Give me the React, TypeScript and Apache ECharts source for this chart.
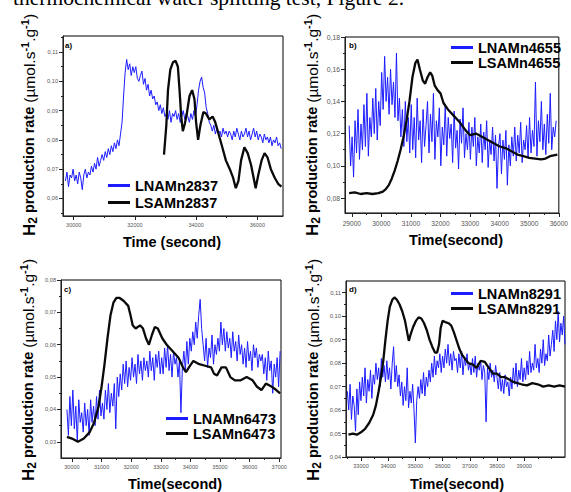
import React, { useEffect, useRef } from 'react';
import * as echarts from 'echarts';

const BLUE = '#1c1cff';
const BLACK = '#0a0a0a';
const FONT = '"Liberation Sans", Arial, Helvetica, sans-serif';

const topText = 'thermochemical water splitting test, Figure 2.';
const panelLabels = ['a)', 'b)', 'c)', 'd)'];
const xTitles = ['Time (second)', 'Time(second)', 'Time(second)', 'Time(second)'];

// ---------- Panel a ----------
const aNames = ['LNAMn2837', 'LSAMn2837'];
const aBlueStart = 29730;
const aBlueStep = 50;
const aBlue = [
  0.066, 0.069, 0.064, 0.068, 0.067, 0.070, 0.066, 0.068, 0.065, 0.069, 0.067, 0.063, 0.068, 0.070, 0.067, 0.069,
  0.068, 0.071, 0.069, 0.072, 0.070, 0.074, 0.071, 0.073,
  0.075, 0.073, 0.076, 0.074, 0.077, 0.075, 0.078, 0.076,
  0.079, 0.077, 0.080, 0.078, 0.082,
  0.086, 0.095, 0.103, 0.1075,
  0.104, 0.106, 0.102, 0.105, 0.103, 0.105, 0.101,
  0.100, 0.102, 0.1035, 0.099, 0.101,
  0.097, 0.099, 0.095, 0.097, 0.094, 0.095, 0.092,
  0.093, 0.090, 0.092, 0.089, 0.091, 0.088,
  0.089, 0.087, 0.090, 0.086, 0.089, 0.088, 0.090, 0.087, 0.089, 0.086, 0.088, 0.090, 0.087, 0.089, 0.088, 0.086, 0.089, 0.087, 0.090, 0.088,
  0.092, 0.097, 0.100, 0.1015,
  0.098, 0.096, 0.091, 0.089, 0.086, 0.085,
  0.083, 0.085, 0.082, 0.084, 0.082, 0.083, 0.081, 0.084, 0.082, 0.083,
  0.081, 0.083, 0.082, 0.080, 0.083, 0.081, 0.084, 0.082, 0.080, 0.083, 0.081, 0.082, 0.084, 0.081, 0.083, 0.080, 0.082, 0.084, 0.081, 0.083,
  0.080, 0.082, 0.081, 0.079, 0.082, 0.080, 0.081, 0.079, 0.081, 0.078, 0.080, 0.079, 0.081, 0.078, 0.079, 0.077,
];
const aBlack = [
  [32951, 0.075], [33027, 0.085], [33081, 0.097], [33157, 0.104], [33243, 0.1065], [33330, 0.107], [33405, 0.105],
  [33459, 0.097], [33513, 0.088], [33567, 0.083], [33632, 0.0855], [33697, 0.089], [33784, 0.095], [33870, 0.097],
  [33946, 0.094], [34000, 0.086], [34065, 0.080], [34140, 0.085], [34238, 0.0895], [34324, 0.089], [34432, 0.087],
  [34540, 0.088], [34627, 0.086], [34735, 0.082], [34843, 0.078], [34973, 0.073], [35102, 0.070], [35211, 0.067],
  [35297, 0.0635], [35384, 0.066], [35470, 0.073], [35578, 0.0775], [35686, 0.0755], [35795, 0.0715], [35881, 0.067],
  [35946, 0.0635], [36032, 0.068], [36140, 0.073], [36237, 0.0755], [36335, 0.074], [36443, 0.070], [36573, 0.067],
  [36681, 0.065], [36789, 0.064],
];
const aXTicks = [30000, 32000, 34000, 36000];
const aXMinor = [31000, 33000, 35000];
const aYTicks = [0.06, 0.07, 0.08, 0.09, 0.1, 0.11];
const aYMinor = [0.055, 0.065, 0.075, 0.085, 0.095, 0.105, 0.115];

// ---------- Panel b ----------
const bNames = ['LNAMn4655', 'LSAMn4655'];
const bBlueStart = 28910;
const bBlueStep = 50;
const bBlue = [
  0.125, 0.100, 0.118, 0.093, 0.128, 0.108, 0.135, 0.104,
  0.126, 0.110, 0.138, 0.112, 0.145, 0.106, 0.130, 0.118,
  0.142, 0.120, 0.148, 0.116, 0.140, 0.125,
  0.158, 0.135, 0.168, 0.140, 0.155, 0.132,
  0.160, 0.138, 0.152, 0.130, 0.170, 0.128,
  0.142, 0.118, 0.135, 0.112, 0.140, 0.115, 0.130, 0.108,
  0.138, 0.110, 0.130, 0.105, 0.142, 0.116, 0.128, 0.102, 0.135, 0.112, 0.125, 0.140, 0.108, 0.132, 0.115, 0.145, 0.104, 0.128, 0.118, 0.136,
  0.100, 0.124, 0.113, 0.138, 0.106, 0.130, 0.117, 0.126, 0.102, 0.134, 0.111, 0.122, 0.098, 0.129, 0.114, 0.136, 0.105, 0.120, 0.110, 0.127,
  0.104, 0.124, 0.112, 0.130, 0.100, 0.118, 0.108, 0.126, 0.102, 0.121, 0.110, 0.128, 0.099, 0.116, 0.107, 0.124, 0.103, 0.119, 0.086, 0.112,
  0.120, 0.095, 0.116, 0.104, 0.122, 0.088, 0.113, 0.100, 0.118, 0.106,
  0.124, 0.103, 0.119, 0.108, 0.127, 0.102, 0.116, 0.110, 0.125, 0.105,
  0.130, 0.108, 0.122, 0.112, 0.152, 0.106, 0.128, 0.115, 0.140, 0.110,
  0.126, 0.107, 0.132, 0.114, 0.145, 0.110, 0.124, 0.118, 0.128,
];
const bBlack = [
  [28910, 0.083], [29100, 0.0835], [29300, 0.0825], [29500, 0.083], [29700, 0.0825], [29900, 0.083], [30050, 0.084],
  [30150, 0.0855], [30250, 0.088], [30350, 0.092], [30450, 0.097], [30550, 0.103], [30650, 0.110], [30750, 0.118],
  [30850, 0.128], [30950, 0.140], [31050, 0.155], [31150, 0.164], [31220, 0.166], [31300, 0.160], [31400, 0.153],
  [31480, 0.151], [31560, 0.155], [31650, 0.158], [31720, 0.156], [31800, 0.150], [31900, 0.147], [32000, 0.145],
  [32100, 0.139], [32250, 0.135], [32450, 0.131], [32650, 0.127], [32850, 0.122], [33000, 0.119], [33200, 0.120],
  [33400, 0.118], [33600, 0.116], [33800, 0.114], [34000, 0.112], [34200, 0.111], [34400, 0.109], [34600, 0.107],
  [34800, 0.106], [35000, 0.105], [35200, 0.1045], [35400, 0.104], [35550, 0.1045], [35700, 0.106], [35950, 0.107],
];
const bXTicks = [29000, 30000, 31000, 32000, 33000, 34000, 35000, 36000];
const bXMinor = [29500, 30500, 31500, 32500, 33500, 34500, 35500];
const bYTicks = [0.08, 0.1, 0.12, 0.14, 0.16, 0.18];
const bYMinor = [0.09, 0.11, 0.13, 0.15, 0.17];

// ---------- Panel c ----------
const cNames = ['LNAMn6473', 'LSAMn6473'];
const cBlueStart = 29830;
const cBlueStep = 50;
const cBlue = [
  0.040, 0.032, 0.044, 0.035, 0.046, 0.034, 0.041, 0.030, 0.043, 0.036,
  0.039, 0.033, 0.042, 0.035, 0.040, 0.032, 0.043, 0.036,
  0.041, 0.035, 0.044, 0.037, 0.046, 0.038,
  0.042, 0.037, 0.046, 0.040, 0.048, 0.039, 0.045, 0.041,
  0.048, 0.034, 0.050, 0.044,
  0.051, 0.046, 0.054, 0.048, 0.055, 0.047,
  0.053, 0.049, 0.056, 0.050, 0.054, 0.048, 0.057, 0.051, 0.055, 0.049, 0.056, 0.052,
  0.055, 0.050, 0.058, 0.052, 0.056, 0.049, 0.057, 0.053, 0.058, 0.051,
  0.056, 0.051, 0.059, 0.053, 0.060, 0.052, 0.057, 0.050, 0.058, 0.054,
  0.056, 0.050, 0.055, 0.039, 0.053,
  0.058, 0.052, 0.061, 0.054, 0.062,
  0.058, 0.064, 0.060, 0.067, 0.062, 0.069, 0.074, 0.065,
  0.060, 0.055, 0.062, 0.053, 0.059, 0.056, 0.063, 0.054, 0.060, 0.057,
  0.062, 0.058, 0.067, 0.060, 0.065, 0.058, 0.064, 0.059,
  0.062, 0.056, 0.064, 0.058, 0.061, 0.055, 0.063, 0.057, 0.060, 0.054,
  0.059, 0.053, 0.061, 0.055, 0.058, 0.052, 0.060, 0.056, 0.059, 0.053, 0.057, 0.055,
  0.057, 0.051, 0.056, 0.049, 0.058, 0.052, 0.055, 0.045, 0.054, 0.050, 0.056, 0.047, 0.058,
];
const cBlack = [
  [29830, 0.0315], [30000, 0.031], [30200, 0.030], [30400, 0.031], [30600, 0.033], [30750, 0.036], [30900, 0.041],
  [31000, 0.047], [31100, 0.054], [31200, 0.062], [31300, 0.069], [31400, 0.073], [31500, 0.0745], [31600, 0.0745],
  [31750, 0.0735], [31900, 0.072], [31980, 0.069], [32050, 0.066], [32150, 0.065], [32300, 0.066], [32400, 0.065],
  [32500, 0.062], [32600, 0.060], [32700, 0.063], [32800, 0.0655], [32900, 0.065], [33050, 0.062], [33200, 0.060],
  [33400, 0.058], [33600, 0.056], [33750, 0.053], [33850, 0.0515], [33950, 0.053], [34100, 0.055], [34300, 0.054],
  [34500, 0.0535], [34700, 0.053], [34800, 0.051], [34900, 0.0505], [35050, 0.053], [35200, 0.053], [35350, 0.050],
  [35500, 0.049], [35700, 0.049], [35900, 0.050], [36100, 0.049], [36250, 0.047], [36400, 0.046], [36550, 0.048],
  [36750, 0.047], [36900, 0.046], [37030, 0.045],
];
const cXTicks = [30000, 31000, 32000, 33000, 34000, 35000, 36000, 37000];
const cXMinor = [30500, 31500, 32500, 33500, 34500, 35500, 36500];
const cYTicks = [0.03, 0.04, 0.05, 0.06, 0.07, 0.08];
const cYMinor = [0.035, 0.045, 0.055, 0.065, 0.075];

// ---------- Panel d ----------
const dNames = ['LNAMn8291', 'LSAMn8291'];
const dBlueStart = 32500;
const dBlueStep = 50;
const dBlue = [
  0.068, 0.060, 0.071, 0.056, 0.066, 0.062, 0.051, 0.069, 0.058, 0.072,
  0.064, 0.074, 0.066, 0.078, 0.063, 0.073, 0.068, 0.077, 0.065, 0.075,
  0.071, 0.080, 0.073, 0.078, 0.070, 0.082, 0.074, 0.079, 0.072, 0.081,
  0.073, 0.078, 0.069, 0.080, 0.087, 0.072, 0.079, 0.070,
  0.075, 0.066, 0.072, 0.062, 0.070, 0.064, 0.078, 0.061, 0.068, 0.063, 0.071, 0.060,
  0.046, 0.064,
  0.070, 0.065, 0.073, 0.067, 0.076, 0.066, 0.074, 0.070,
  0.077, 0.072, 0.080, 0.074, 0.083, 0.075, 0.081, 0.078, 0.084, 0.076,
  0.083, 0.078, 0.086, 0.080, 0.088, 0.079, 0.084, 0.077, 0.085, 0.081,
  0.082, 0.076, 0.084, 0.078, 0.085, 0.075, 0.082, 0.079, 0.084, 0.077,
  0.080, 0.075, 0.082, 0.076, 0.083, 0.074, 0.080, 0.077, 0.081, 0.073, 0.079, 0.076,
  0.055, 0.078, 0.073, 0.080, 0.074, 0.077, 0.072, 0.079,
  0.074, 0.069, 0.076, 0.068, 0.073, 0.067, 0.075, 0.070, 0.072, 0.066,
  0.074, 0.069, 0.078, 0.071, 0.080, 0.070, 0.077, 0.073, 0.082, 0.072,
  0.078, 0.073, 0.081, 0.075, 0.085, 0.076, 0.080, 0.077, 0.088, 0.078,
  0.082, 0.076, 0.086, 0.080, 0.090, 0.079, 0.084, 0.081, 0.092, 0.083,
  0.088, 0.094, 0.085, 0.098, 0.090, 0.102, 0.089, 0.097, 0.092, 0.100, 0.088,
];
const dBlack = [
  [32540, 0.0495], [32700, 0.050], [32850, 0.0495], [33000, 0.0505], [33150, 0.052], [33300, 0.0545], [33450, 0.058],
  [33550, 0.062], [33650, 0.068], [33750, 0.075], [33820, 0.081], [33900, 0.090], [33980, 0.098], [34060, 0.104],
  [34150, 0.107], [34230, 0.108], [34320, 0.107], [34420, 0.105], [34520, 0.102], [34620, 0.098], [34700, 0.093],
  [34760, 0.0895], [34820, 0.092], [34920, 0.0955], [35020, 0.098], [35120, 0.0995], [35220, 0.099], [35320, 0.097],
  [35420, 0.094], [35520, 0.090], [35620, 0.087], [35720, 0.0845], [35800, 0.0845], [35870, 0.088], [35930, 0.095],
  [36000, 0.098], [36100, 0.0975], [36220, 0.097], [36320, 0.096], [36420, 0.093], [36520, 0.0895], [36620, 0.086],
  [36720, 0.0835], [36850, 0.0815], [36950, 0.080], [37100, 0.0795], [37250, 0.078], [37400, 0.081], [37550, 0.0805],
  [37700, 0.078], [37850, 0.0755], [38000, 0.0755], [38150, 0.074], [38300, 0.074], [38450, 0.073], [38600, 0.072],
  [38750, 0.0715], [38900, 0.071], [39100, 0.0705], [39300, 0.0715], [39500, 0.071], [39700, 0.070], [39900, 0.0705],
  [40100, 0.070], [40300, 0.0705], [40500, 0.070],
];
const dXTicks = [33000, 34000, 35000, 36000, 37000, 38000, 39000];
const dXMinor = [32500, 33500, 34500, 35500, 36500, 37500, 38500, 39500, 40000];
const dYTicks = [0.04, 0.05, 0.06, 0.07, 0.08, 0.09, 0.1, 0.11];
const dYMinor = [0.045, 0.055, 0.065, 0.075, 0.085, 0.095, 0.105];

const toPairs = (start: number, step: number, vals: number[]) => vals.map((v, i) => [start + i * step, v]);

const panels = [
  {
    names: aNames, blue: toPairs(aBlueStart, aBlueStep, aBlue), black: aBlack,
    xTicks: aXTicks, xMinor: aXMinor, yTicks: aYTicks, yMinor: aYMinor,
    grid: { left: 63, top: 36, width: 220, height: 180 }, xr: [29650, 36840], yr: [0.054, 0.1155],
    fx: 5.5, fy: 5.6, mx: 5.5, my: 5, lg: { left: 108, top: 177, lh: 17, gap: 0 },
    lab: [65, 45.5], yt: [29, 125], xt: [172, 241.5],
  },
  {
    names: bNames, blue: toPairs(bBlueStart, bBlueStep, bBlue), black: bBlack,
    xTicks: bXTicks, xMinor: bXMinor, yTicks: bYTicks, yMinor: bYMinor,
    grid: { left: 345, top: 37, width: 221, height: 176 }, xr: [28770, 36000], yr: [0.0707, 0.18],
    fx: 6.6, fy: 6.8, mx: 6.5, my: 5, lg: { left: 451, top: 40, lh: 14.5, gap: 0 },
    lab: [349, 45.5], yt: [312, 125], xt: [456, 240],
  },
  {
    names: cNames, blue: toPairs(cBlueStart, cBlueStep, cBlue), black: cBlack,
    xTicks: cXTicks, xMinor: cXMinor, yTicks: cYTicks, yMinor: cYMinor,
    grid: { left: 61, top: 280, width: 220, height: 178 }, xr: [29630, 37060], yr: [0.025, 0.08],
    fx: 5.5, fy: 5.6, mx: 5.5, my: 5, lg: { left: 166, top: 411, lh: 14.5, gap: 0 },
    lab: [64, 289], yt: [28, 370], xt: [175, 483.5],
  },
  {
    names: dNames, blue: toPairs(dBlueStart, dBlueStep, dBlue), black: dBlack,
    xTicks: dXTicks, xMinor: dXMinor, yTicks: dYTicks, yMinor: dYMinor,
    grid: { left: 346, top: 281, width: 219, height: 176 }, xr: [32450, 40500], yr: [0.04, 0.115],
    fx: 5.6, fy: 5.8, mx: 6, my: 5, lg: { left: 451, top: 286, lh: 14.5, gap: 0 },
    lab: [349, 289.5], yt: [313, 370], xt: [457, 483.5],
  },
];

const yTitleRich = {
  h: { fontSize: 17, fontWeight: 'bold', fontFamily: FONT, fill: '#000', lineHeight: 20 },
  s: { fontSize: 12, fontWeight: 'bold', fontFamily: FONT, fill: '#000', verticalAlign: 'bottom', lineHeight: 20 },
  b: { fontSize: 14.5, fontWeight: 'bold', fontFamily: FONT, fill: '#000', lineHeight: 20 },
  u: { fontSize: 15.5, fontWeight: 'normal', fontFamily: FONT, fill: '#000', lineHeight: 20 },
  p: { fontSize: 11, fontWeight: 'bold', fontFamily: FONT, fill: '#000', verticalAlign: 'top', lineHeight: 20 },
};
const yTitleText = '{h|H}{s|2}{b| production rate }{u|(µmol.s}{p|-1}{u|.g}{p|-1}{u|)}';

function buildOption() {
  const grid: any[] = [];
  const xAxis: any[] = [];
  const yAxis: any[] = [];
  const series: any[] = [];
  const legend: any[] = [];
  const graphic: any[] = [];

  graphic.push({
    type: 'text', x: 13, y: -2, silent: true,
    style: { text: topText, fontSize: 21.5, fontFamily: '"Liberation Serif", "Times New Roman", serif', fill: '#000', align: 'left', verticalAlign: 'middle' },
  });

  panels.forEach((p, k) => {
    grid.push({ ...p.grid, show: true, borderColor: '#000', borderWidth: 1, backgroundColor: 'transparent', containLabel: false });
    const axLine = { show: true, onZero: false, lineStyle: { color: '#222', width: 1 } };
    xAxis.push({
      type: 'value', gridIndex: k, min: p.xr[0], max: p.xr[1], position: 'bottom',
      axisLine: axLine,
      axisTick: { show: true, inside: false, length: 4, customValues: p.xTicks, lineStyle: { color: '#222', width: 1 } },
      axisLabel: { show: true, customValues: p.xTicks, fontSize: p.fx, color: '#555', margin: p.mx, fontFamily: FONT, formatter: (v: number) => String(Math.round(v)) },
      splitLine: { show: false },
    });
    xAxis.push({
      type: 'value', gridIndex: k, min: p.xr[0], max: p.xr[1], position: 'bottom',
      axisLine: { show: false },
      axisTick: { show: true, inside: false, length: 2, customValues: p.xMinor, lineStyle: { color: '#222', width: 1 } },
      axisLabel: { show: false }, splitLine: { show: false },
    });
    yAxis.push({
      type: 'value', gridIndex: k, min: p.yr[0], max: p.yr[1], position: 'left',
      axisLine: axLine,
      axisTick: { show: true, inside: false, length: 4, customValues: p.yTicks, lineStyle: { color: '#222', width: 1 } },
      axisLabel: { show: true, customValues: p.yTicks, fontSize: p.fy, color: '#555', margin: p.my, fontFamily: FONT, formatter: (v: number) => v.toFixed(2).replace('.', ',') },
      splitLine: { show: false },
    });
    yAxis.push({
      type: 'value', gridIndex: k, min: p.yr[0], max: p.yr[1], position: 'left',
      axisLine: { show: false },
      axisTick: { show: true, inside: false, length: 2, customValues: p.yMinor, lineStyle: { color: '#222', width: 1 } },
      axisLabel: { show: false }, splitLine: { show: false },
    });
    series.push({
      type: 'line', name: p.names[0], xAxisIndex: 2 * k, yAxisIndex: 2 * k, data: p.blue,
      showSymbol: false, symbol: 'none', color: BLUE, itemStyle: { color: BLUE },
      lineStyle: { color: BLUE, width: 1 }, silent: true, z: 2,
    });
    series.push({
      type: 'line', name: p.names[1], xAxisIndex: 2 * k, yAxisIndex: 2 * k, data: p.black,
      showSymbol: false, symbol: 'none', color: BLACK, itemStyle: { color: BLACK },
      lineStyle: { color: BLACK, width: 2.3 }, silent: true, z: 3,
    });
    legend.push({
      data: p.names, orient: 'vertical', left: p.lg.left, top: p.lg.top, padding: 0,
      itemGap: p.lg.gap, itemWidth: 22, itemHeight: 3, icon: 'rect', selectedMode: false,
      textStyle: { fontSize: 14.5, fontWeight: 'bold', color: '#000', fontFamily: FONT, lineHeight: p.lg.lh, height: p.lg.lh },
    });
    graphic.push({
      type: 'text', x: p.lab[0], y: p.lab[1], silent: true,
      style: { text: panelLabels[k], fontSize: 8, fontWeight: 'bold', fontFamily: FONT, fill: '#000', align: 'left', verticalAlign: 'middle' },
    });
    graphic.push({
      type: 'text', x: p.xt[0], y: p.xt[1], silent: true,
      style: { text: xTitles[k], fontSize: 14.5, fontWeight: 'bold', fontFamily: FONT, fill: '#000', align: 'center', verticalAlign: 'middle' },
    });
    graphic.push({
      type: 'text', x: p.yt[0], y: p.yt[1], rotation: Math.PI / 2, silent: true,
      style: { text: yTitleText, rich: yTitleRich, align: 'center', verticalAlign: 'middle' },
    });
  });

  return { animation: false, backgroundColor: '#ffffff', grid, xAxis, yAxis, series, legend, graphic };
}

export default function App() {
  const ref = useRef<HTMLDivElement>(null);
  useEffect(() => {
    if (!ref.current) return;
    const chart = echarts.init(ref.current, undefined, { renderer: 'svg' });
    chart.setOption(buildOption() as any);
    return () => chart.dispose();
  }, []);
  return (
    <div
      ref={ref}
      style={{ position: 'fixed', left: 0, top: 0, width: 571, height: 492, background: '#fff' }}
    />
  );
}
